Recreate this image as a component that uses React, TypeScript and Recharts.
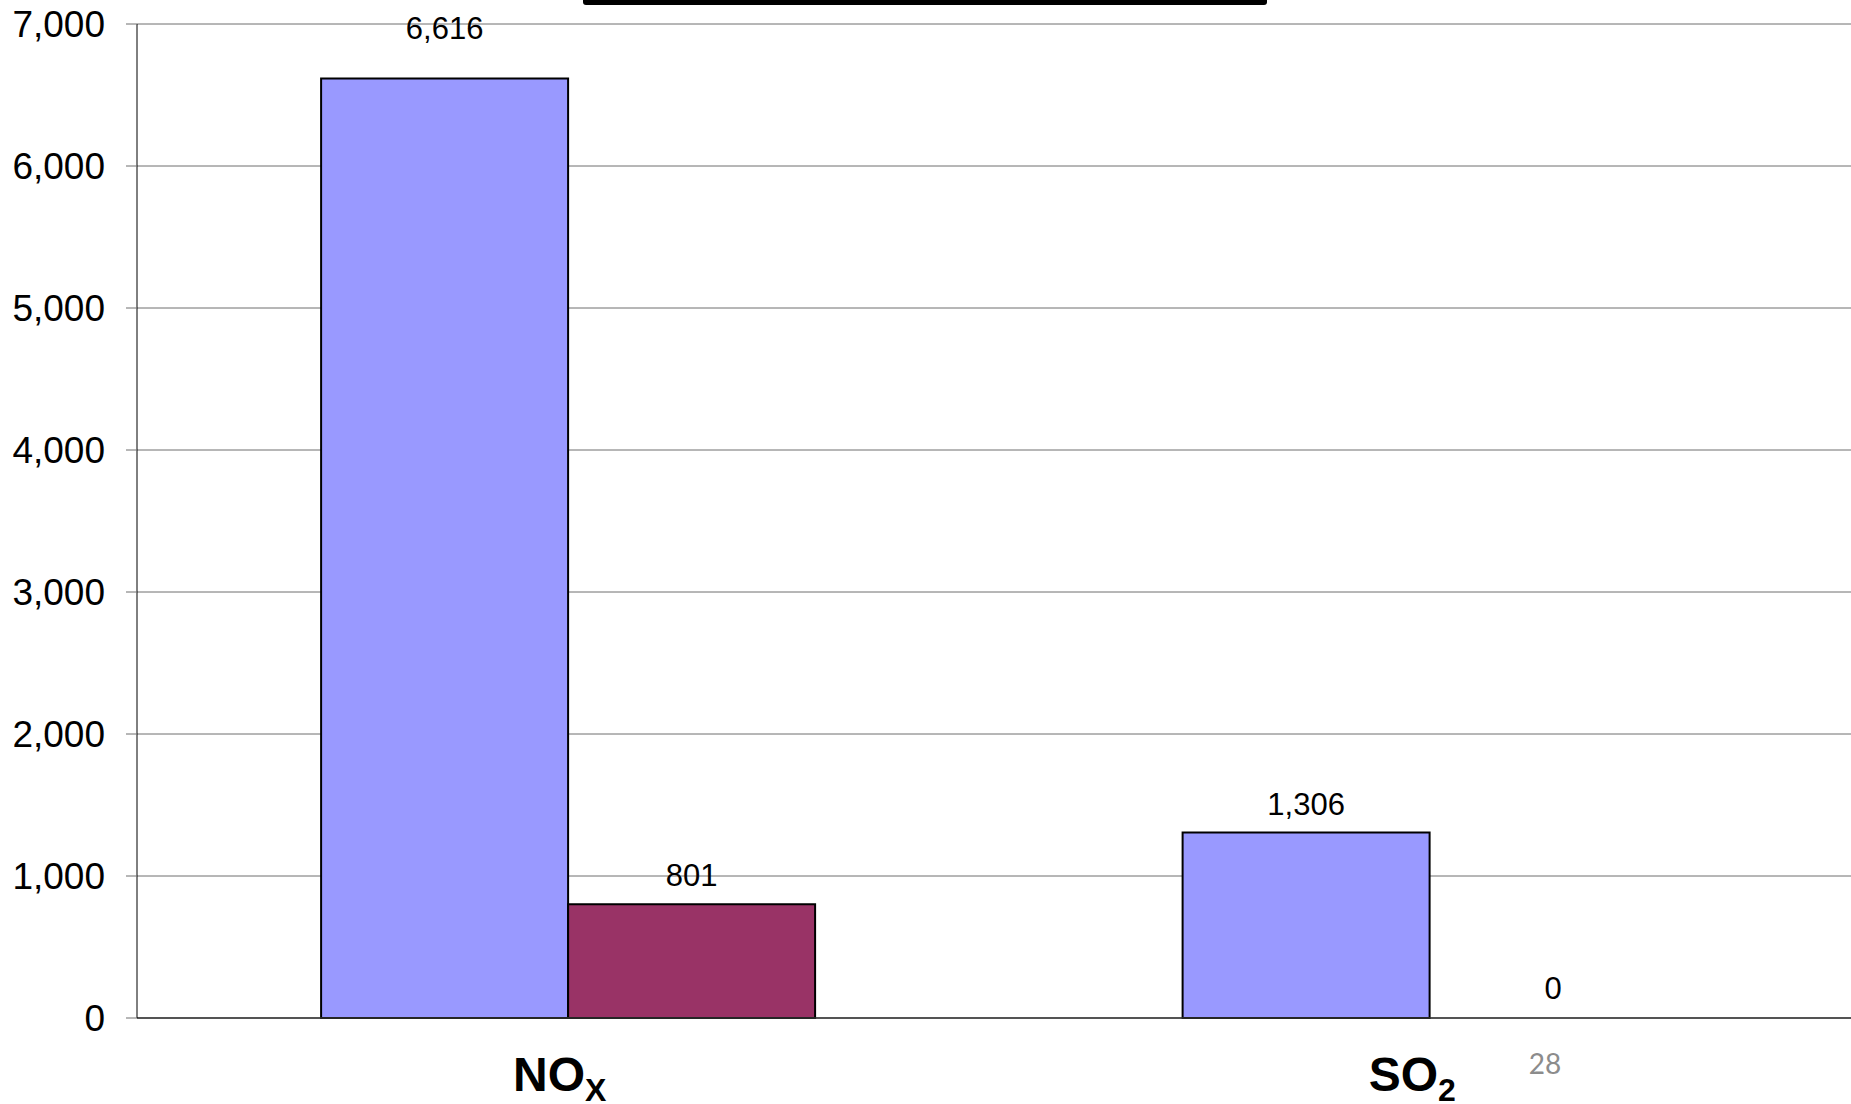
import React from 'react';
import { BarChart, Bar, XAxis, YAxis, CartesianGrid, LabelList, Cell } from 'recharts';

// ---- data ----
const categories = ['NOX', 'SO2'];
const categoryMain = ['NO', 'SO'];
const categorySubscripts = ['X', '2'];
const seriesA = [6616, 1306];
const seriesB = [801, 0];
const yTicks = [0, 1000, 2000, 3000, 4000, 5000, 6000, 7000];
const yMax = 7000;
const pageNumber = '28';

const data = categories.map((c, i) => ({ name: c, a: seriesA[i], b: seriesB[i] }));

const FONT = '"Liberation Sans", Arial, Helvetica, sans-serif';
const BLUE = '#9999FF';
const PLUM = '#993366';
const TICK_NUDGE = [-8, -17];

const XTick = (props: any) => {
  const { x, y, payload } = props;
  const i = categories.indexOf(payload.value);
  return (
    <text x={x + TICK_NUDGE[i]} y={y + 73} textAnchor="middle" fontFamily={FONT} fontWeight="bold" fontSize={48} fill="#000">
      {categoryMain[i]}
      <tspan fontSize={32} dy={10}>{categorySubscripts[i]}</tspan>
    </text>
  );
};

const renderLabel = (props: any) => {
  const { x, y, width, value } = props;
  const off = value > 0.9 * yMax ? 40 : 18;
  return (
    <text x={x + width / 2} y={y - off} textAnchor="middle" fontFamily={FONT} fontSize={31} fill="#000">
      {Number(value).toLocaleString('en-US')}
    </text>
  );
};

export default function App() {
  return (
    <div style={{ position: 'absolute', left: 0, top: 0, width: 1851, height: 1104, background: '#fff', overflow: 'hidden' }}>
      <BarChart
        width={1860}
        height={1104}
        data={data}
        margin={{ top: 24, right: 0, left: 0, bottom: 0 }}
        barCategoryGap="21.37%"
        barGap={0}
      >
        <CartesianGrid vertical={false} stroke="#6e6e6e" strokeWidth={1} />
        <XAxis
          dataKey="name"
          height={86}
          tickLine={false}
          tickSize={0}
          tickMargin={0}
          axisLine={{ stroke: '#333', strokeWidth: 1.5 }}
          tick={<XTick />}
          interval={0}
        />
        <YAxis
          width={137}
          domain={[0, yMax]}
          ticks={yTicks}
          tickSize={11}
          tickMargin={21}
          tickLine={{ stroke: '#6e6e6e' }}
          axisLine={{ stroke: '#000', strokeWidth: 1 }}
          tick={{ fontFamily: FONT, fontSize: 37, fill: '#000' }}
          tickFormatter={(v: number) => v.toLocaleString('en-US')}
          interval={0}
        />
        <Bar dataKey="a" fill={BLUE} stroke="#000" strokeWidth={2} isAnimationActive={false}>
          <LabelList dataKey="a" content={renderLabel} />
        </Bar>
        <Bar dataKey="b" fill={PLUM} stroke="#000" strokeWidth={2} minPointSize={1} isAnimationActive={false}>
          {seriesB.map((v, i) => (
            <Cell
              key={i}
              fill={v === 0 ? 'transparent' : PLUM}
              stroke={v === 0 ? 'transparent' : '#000'}
            />
          ))}
          <LabelList dataKey="b" content={renderLabel} />
        </Bar>
      </BarChart>
      <div
        style={{
          position: 'absolute',
          left: 583,
          top: 0,
          width: 684,
          height: 5,
          background: '#000',
          borderBottomLeftRadius: 3,
          borderBottomRightRadius: 3,
        }}
      />
      <div
        style={{
          position: 'absolute',
          left: 1520,
          top: 1046,
          width: 50,
          textAlign: 'center',
          fontFamily: 'Lato, "Open Sans", sans-serif',
          fontSize: 28,
          lineHeight: '34px',
          color: '#8c8c8c',
        }}
      >
        {pageNumber}
      </div>
    </div>
  );
}
